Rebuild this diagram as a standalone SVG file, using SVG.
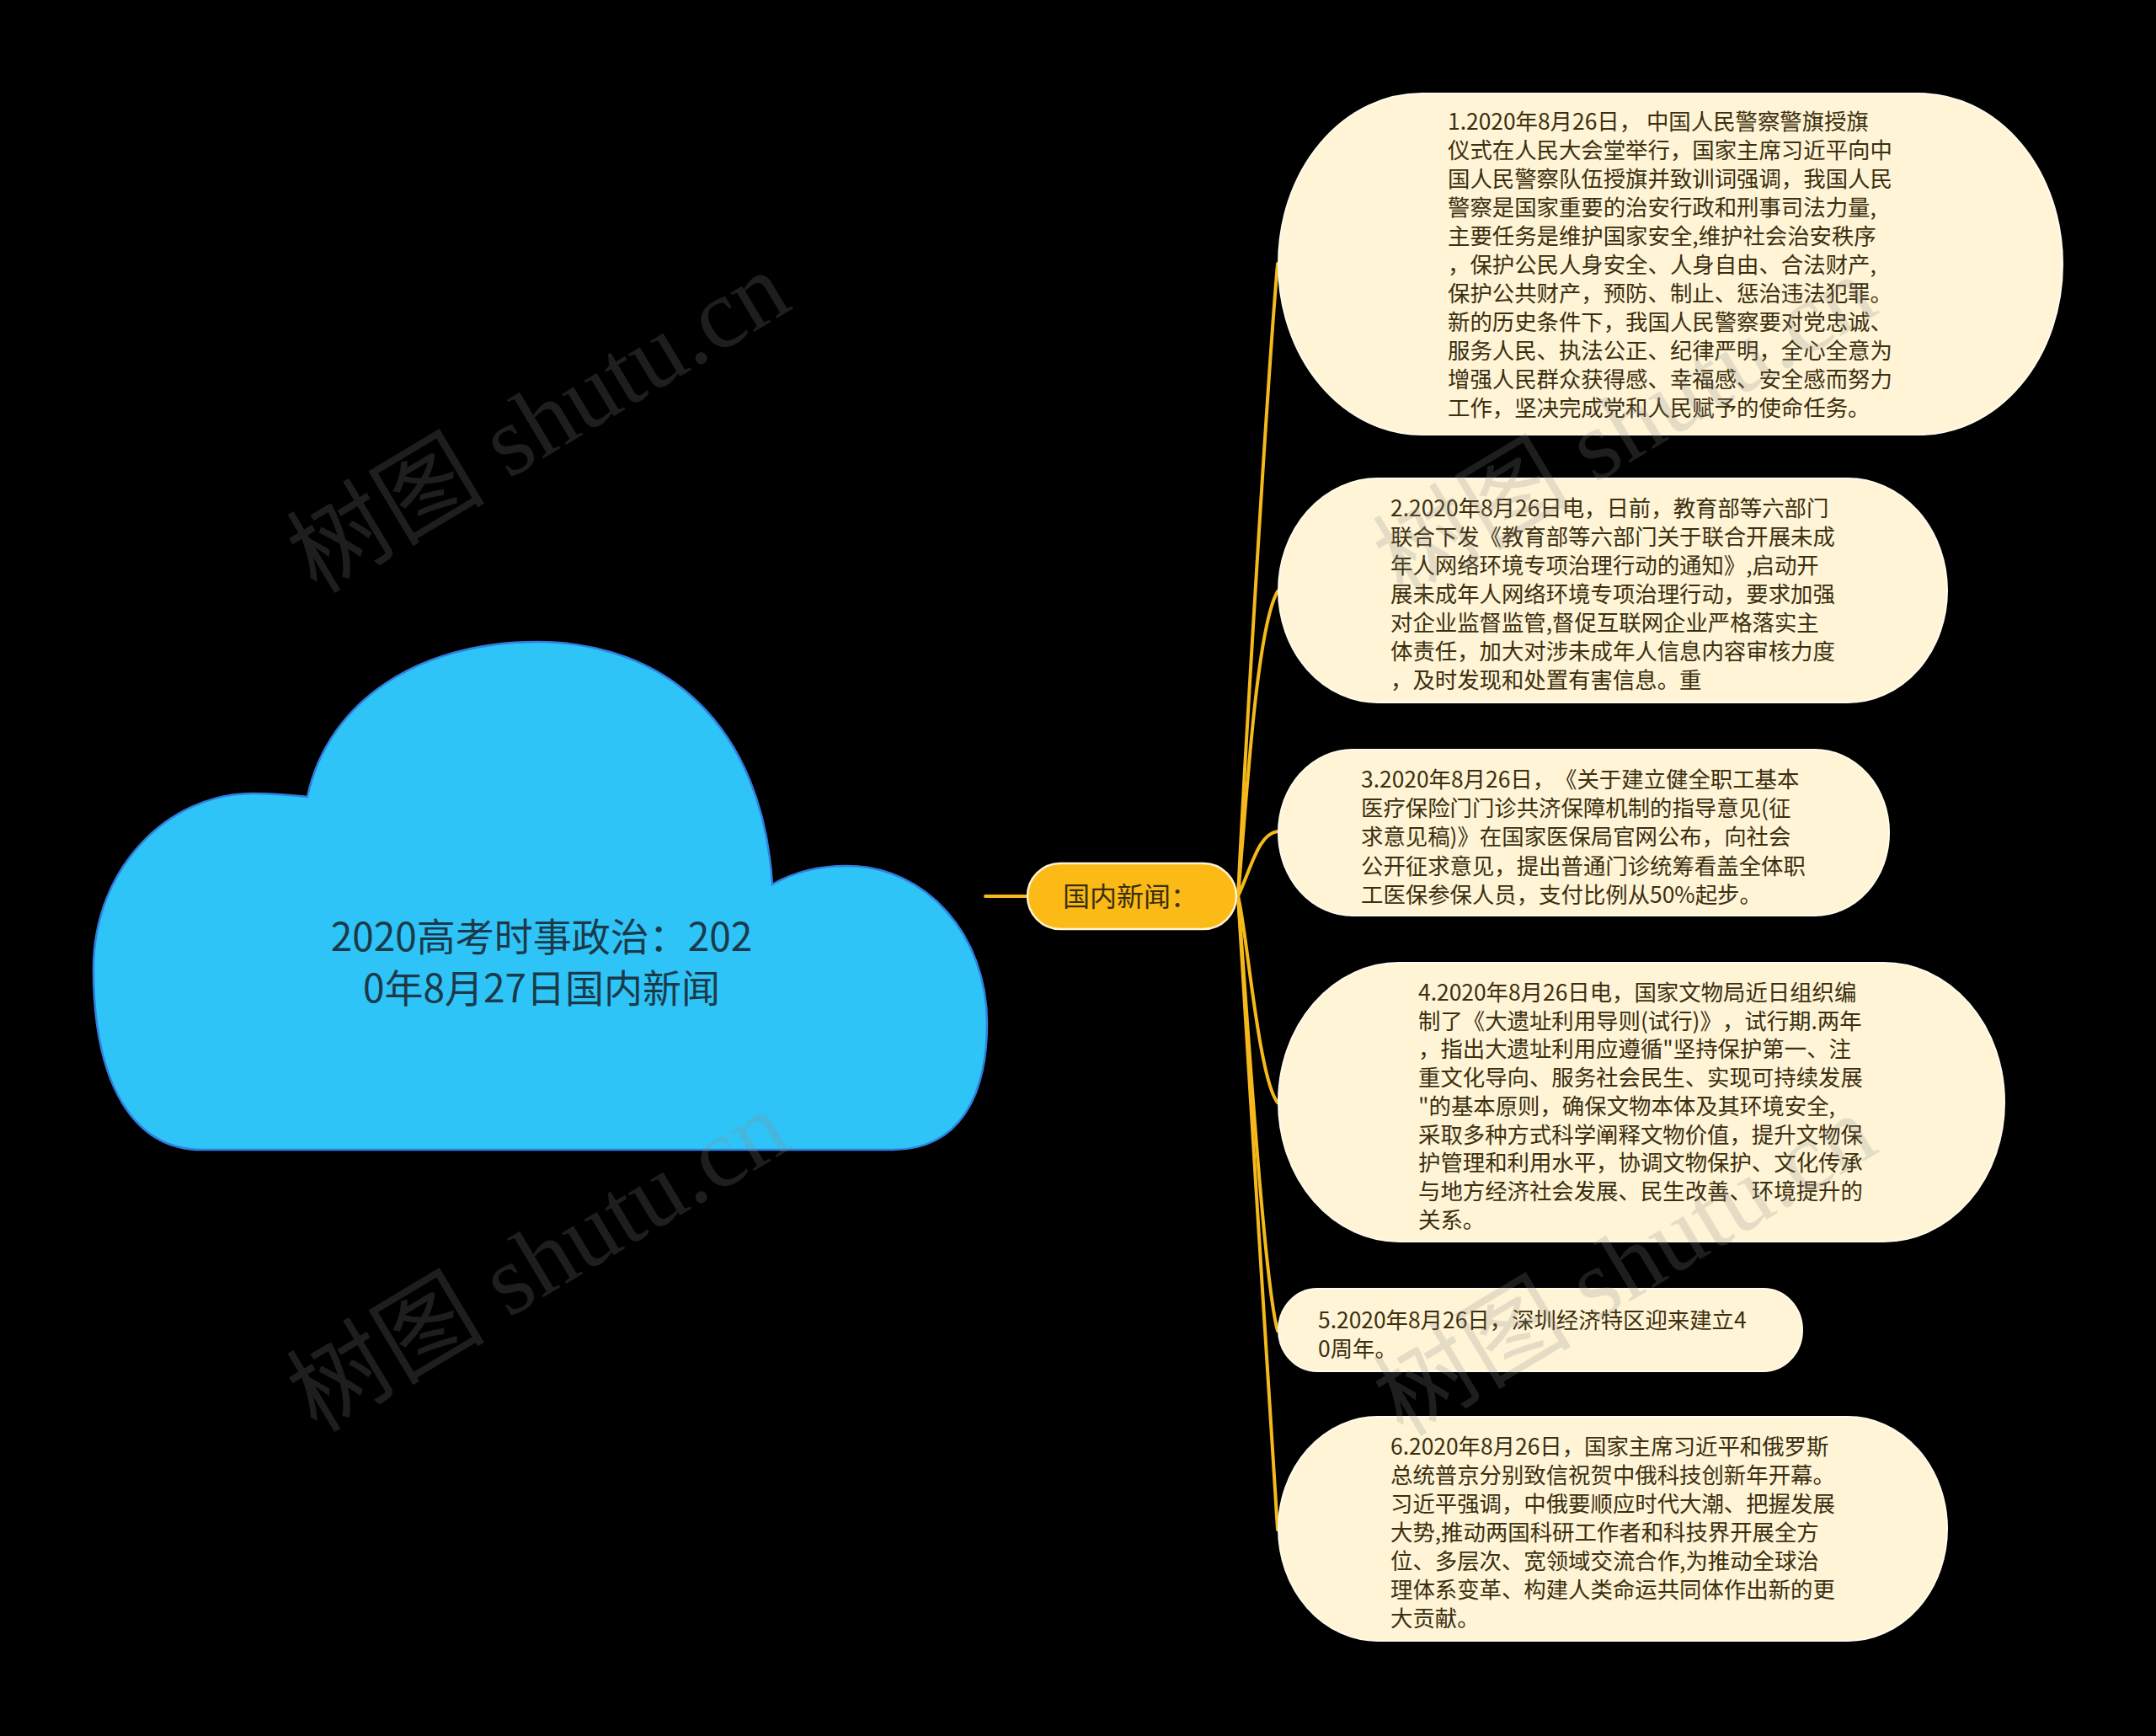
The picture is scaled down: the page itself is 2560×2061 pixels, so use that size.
<svg xmlns="http://www.w3.org/2000/svg" width="2560" height="2061" viewBox="0 0 2560 2061">
<style>
.bg{fill:#000000}
.cloud{fill:#2FC4F7;stroke:#2F7FE0;stroke-width:2.5}
.title{font-family:"Noto Sans CJK SC","Noto Sans",sans-serif;font-size:46px;fill:#1B3A49;text-anchor:middle}
.pill{fill:#FBBA16;stroke:#FFF3D0;stroke-width:2.5}
.pilltxt{font-family:"Noto Sans CJK SC","Noto Sans",sans-serif;font-size:32px;fill:#3A2E0E;text-anchor:middle}
.leaf{fill:#FFF4D6;stroke:#FFFBEC;stroke-width:2}
.txt{font-family:"Noto Sans CJK SC","Noto Sans",sans-serif;font-size:26.4px;fill:#3B2F0F;text-spacing-trim:space-all}
.link{fill:none;stroke:#F5B91C;stroke-width:4;stroke-linecap:round}
.wm{font-family:"Liberation Serif","Noto Sans CJK SC",serif;font-size:118px;fill:#8A8A8A;opacity:0.22}
</style>
<rect class="bg" x="0" y="0" width="2560" height="2061"/>

<g id="connectors">
  <path class="link" d="M1170 1064 L1220 1064" stroke-linecap="butt"/>
  <path class="link" d="M1470 1064 C1478 900 1505 450 1517 313"/>
  <path class="link" d="M1470 1064 C1480 950 1492 745 1517 702"/>
  <path class="link" d="M1470 1064 C1486 1030 1494 990 1517 987"/>
  <path class="link" d="M1470 1064 C1480 1100 1494 1280 1517 1309"/>
  <path class="link" d="M1470 1064 C1478 1160 1500 1520 1517 1580"/>
  <path class="link" d="M1470 1064 C1475 1160 1510 1700 1517 1816"/>
</g>

<g id="root">
  <path class="cloud" d="M365 946 C390 830 500 762 637 762 C790 762 905 860 917 1050 C945 1034 975 1028 1005 1028 C1100 1028 1172 1110 1172 1215 C1172 1300 1140 1365 1060 1365 L240 1365 C160 1365 111 1290 111 1150 C111 1030 200 942 300 942 C325 942 345 944 365 946 Z"/>
  <text class="title" x="643" y="1129">2020高考时事政治：202</text>
  <text class="title" x="643" y="1190">0年8月27日国内新闻</text>
</g>

<g id="branch">
  <rect class="pill" x="1220" y="1025" width="248" height="78" rx="39" ry="39"/>
  <text class="pilltxt" x="1342" y="1076">国内新闻：</text>
</g>

<g id="n1">
  <rect class="leaf" x="1518" y="111" width="931" height="405" rx="170" ry="202"/>
  <text class="txt">
    <tspan x="1719" y="154">1.2020年8月26日， 中国人民警察警旗授旗</tspan>
    <tspan x="1719" y="188">仪式在人民大会堂举行，国家主席习近平向中</tspan>
    <tspan x="1719" y="222">国人民警察队伍授旗并致训词强调，我国人民</tspan>
    <tspan x="1719" y="256">警察是国家重要的治安行政和刑事司法力量,</tspan>
    <tspan x="1719" y="290">主要任务是维护国家安全,维护社会治安秩序</tspan>
    <tspan x="1719" y="324">，保护公民人身安全、人身自由、合法财产,</tspan>
    <tspan x="1719" y="358">保护公共财产，预防、制止、惩治违法犯罪。</tspan>
    <tspan x="1719" y="392">新的历史条件下，我国人民警察要对党忠诚、</tspan>
    <tspan x="1719" y="426">服务人民、执法公正、纪律严明，全心全意为</tspan>
    <tspan x="1719" y="460">增强人民群众获得感、幸福感、安全感而努力</tspan>
    <tspan x="1719" y="494">工作，坚决完成党和人民赋予的使命任务。</tspan>
  </text>
</g>

<g id="n2">
  <rect class="leaf" x="1518" y="568" width="794" height="266" rx="118" ry="133"/>
  <text class="txt">
    <tspan x="1651" y="613">2.2020年8月26日电，日前，教育部等六部门</tspan>
    <tspan x="1651" y="647">联合下发《教育部等六部门关于联合开展未成</tspan>
    <tspan x="1651" y="681">年人网络环境专项治理行动的通知》,启动开</tspan>
    <tspan x="1651" y="715">展未成年人网络环境专项治理行动，要求加强</tspan>
    <tspan x="1651" y="749">对企业监督监管,督促互联网企业严格落实主</tspan>
    <tspan x="1651" y="783">体责任，加大对涉未成年人信息内容审核力度</tspan>
    <tspan x="1651" y="817">，及时发现和处置有害信息。重</tspan>
  </text>
</g>

<g id="n3">
  <rect class="leaf" x="1518" y="890" width="725" height="197" rx="88" ry="98"/>
  <text class="txt">
    <tspan x="1616" y="935">3.2020年8月26日，《关于建立健全职工基本</tspan>
    <tspan x="1616" y="969">医疗保险门门诊共济保障机制的指导意见(征</tspan>
    <tspan x="1616" y="1003">求意见稿)》在国家医保局官网公布，向社会</tspan>
    <tspan x="1616" y="1038">公开征求意见，提出普通门诊统筹看盖全体职</tspan>
    <tspan x="1616" y="1072">工医保参保人员，支付比例从50%起步。</tspan>
  </text>
</g>

<g id="n4">
  <rect class="leaf" x="1518" y="1143" width="862" height="331" rx="143" ry="165"/>
  <text class="txt">
    <tspan x="1684" y="1188">4.2020年8月26日电，国家文物局近日组织编</tspan>
    <tspan x="1684" y="1222">制了《大遗址利用导则(试行)》，试行期.两年</tspan>
    <tspan x="1684" y="1255">，指出大遗址利用应遵循"坚持保护第一、注</tspan>
    <tspan x="1684" y="1289">重文化导向、服务社会民生、实现可持续发展</tspan>
    <tspan x="1684" y="1323">"的基本原则，确保文物本体及其环境安全,</tspan>
    <tspan x="1684" y="1357">采取多种方式科学阐释文物价值，提升文物保</tspan>
    <tspan x="1684" y="1390">护管理和利用水平，协调文物保护、文化传承</tspan>
    <tspan x="1684" y="1424">与地方经济社会发展、民生改善、环境提升的</tspan>
    <tspan x="1684" y="1458">关系。</tspan>
  </text>
</g>

<g id="n5">
  <rect class="leaf" x="1518" y="1530" width="622" height="98" rx="46" ry="49"/>
  <text class="txt">
    <tspan x="1565" y="1577">5.2020年8月26日，深圳经济特区迎来建立4</tspan>
    <tspan x="1565" y="1611">0周年。</tspan>
  </text>
</g>

<g id="n6">
  <rect class="leaf" x="1518" y="1682" width="794" height="266" rx="118" ry="133"/>
  <text class="txt">
    <tspan x="1651" y="1727">6.2020年8月26日，国家主席习近平和俄罗斯</tspan>
    <tspan x="1651" y="1761">总统普京分别致信祝贺中俄科技创新年开幕。</tspan>
    <tspan x="1651" y="1795">习近平强调，中俄要顺应时代大潮、把握发展</tspan>
    <tspan x="1651" y="1829">大势,推动两国科研工作者和科技界开展全方</tspan>
    <tspan x="1651" y="1863">位、多层次、宽领域交流合作,为推动全球治</tspan>
    <tspan x="1651" y="1897">理体系变革、构建人类命运共同体作出新的更</tspan>
    <tspan x="1651" y="1931">大贡献。</tspan>
  </text>
</g>

<g id="watermarks">
  <text class="wm" transform="translate(376 706) rotate(-31)">树图 shutu.cn</text>
  <text class="wm" transform="translate(376 1702) rotate(-31)">树图 shutu.cn</text>
  <text class="wm" transform="translate(1666 711) rotate(-31)">树图 shutu.cn</text>
  <text class="wm" transform="translate(1666 1707) rotate(-31)">树图 shutu.cn</text>
</g>
</svg>
